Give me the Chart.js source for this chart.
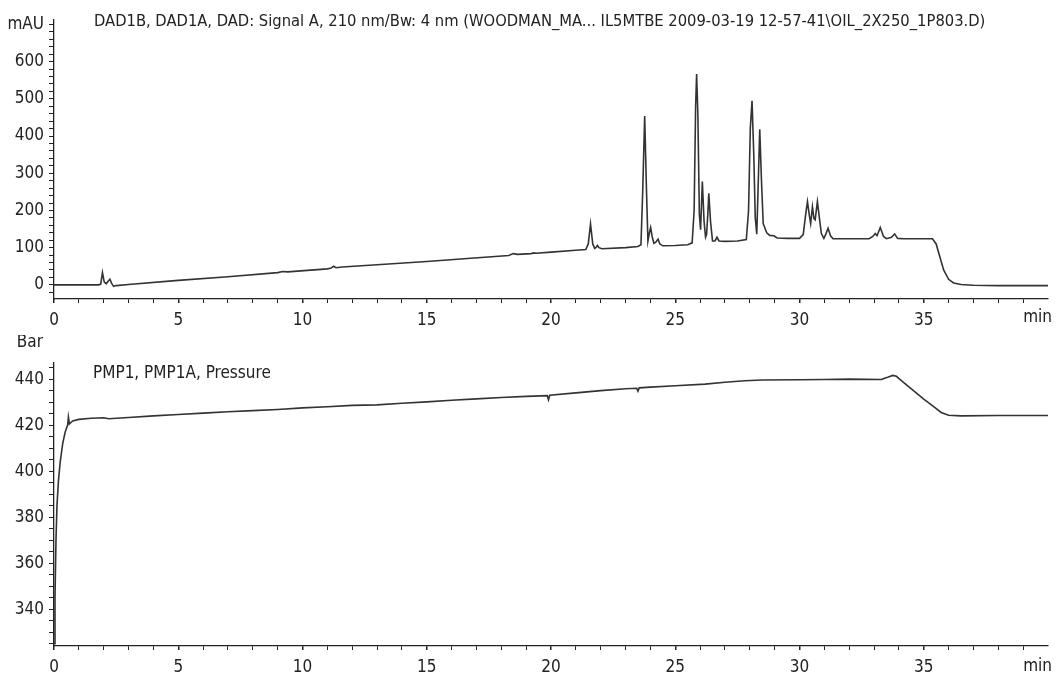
<!DOCTYPE html>
<html>
<head>
<meta charset="utf-8">
<script src="https://cdn.jsdelivr.net/npm/chart.js@4.4.1/dist/chart.umd.min.js"></script>
<style>
  body { margin: 0; background: #fff; }
  .box { position: absolute; left: 0; width: 1060px; }
  #topBox { top: 0; height: 335px; }
  #bottomBox { top: 335px; height: 340px; }
</style>
</head>
<body>
<div class="box" id="topBox"><canvas id="signalChart"></canvas></div>
<div class="box" id="bottomBox"><canvas id="pressureChart"></canvas></div>
<script>
// DAD signal A, 210 nm (min / mAU)
const signalTime = [0, 1.80, 1.88, 1.95, 2.02, 2.10, 2.18, 2.25, 2.32, 2.40, 2.50, 3.0, 5.0, 7.0, 9.0, 9.2, 9.4,
  11.0, 11.15, 11.25, 11.35, 11.6, 13.0, 15.0, 16.5, 18.3, 18.48, 18.65, 19.2, 19.3, 19.4, 20.0, 21.0,
  21.4, 21.50, 21.59, 21.68, 21.76, 21.82, 21.87, 21.93, 22.05, 23.0, 23.5, 23.62, 23.69, 23.77, 23.84,
  23.90, 23.96, 24.01, 24.07, 24.14, 24.22, 24.31, 24.38, 24.5, 25.0, 25.5, 25.68, 25.76, 25.82, 25.86,
  25.91, 25.97, 26.02, 26.09, 26.16, 26.22, 26.26, 26.31, 26.35, 26.42, 26.50, 26.60, 26.68, 26.76,
  27.0, 27.5, 27.86, 27.95, 28.02, 28.09, 28.16, 28.22, 28.28, 28.33, 28.40, 28.47, 28.54, 28.60,
  28.68, 28.8, 28.97, 29.1, 29.5, 30.0, 30.15, 30.25, 30.32, 30.40, 30.45, 30.52, 30.58, 30.63, 30.72,
  30.80, 30.88, 30.98, 31.05, 31.15, 31.25, 31.35, 32.0, 32.8, 32.95, 33.05, 33.12, 33.25, 33.38, 33.5,
  33.7, 33.83, 33.95, 34.2, 35.0, 35.35, 35.5, 35.65, 35.8, 36.0, 36.2, 36.5, 37.0, 38.0, 40.0];
const signalValue = [0, 0, 2, 33, 8, 3, 10, 15, 4, -4, -2, 1, 12, 22, 33, 36, 35,
  43, 45, 50, 46, 48, 54, 63, 70, 79, 84, 82, 84, 86, 85, 88, 93,
  95, 110, 164, 110, 98, 101, 106, 100, 97, 100, 103, 108, 250, 454, 260,
  118, 140, 154, 130, 112, 115, 123, 110, 105, 106, 108, 113, 200, 480, 567,
  460, 190, 148, 278, 170, 128, 135, 190, 246, 170, 118, 118, 128, 118,
  117, 118, 122, 200, 420, 495, 350, 180, 136, 250, 418, 280, 165, 154,
  140, 133, 132, 126, 125, 125, 135, 190, 224, 185, 165, 210, 178, 175, 224,
  180, 138, 125, 135, 152, 132, 124, 124, 124, 130, 138, 132, 154, 130, 124,
  128, 137, 125, 124, 124, 124, 110, 75, 40, 15, 5, 1, -1, -2, -2];

// PMP1 pressure (min / bar)
const pressureTime = [0, 0.04, 0.08, 0.12, 0.18, 0.25, 0.35, 0.45, 0.55, 0.58, 0.62, 0.75, 1.0, 1.5, 2.0,
  2.2, 3.0, 4.0, 5.0, 6.0, 7.0, 8.0, 9.0, 10.0, 11.0, 12.0, 13.0, 14.0, 15.0, 16.0, 17.0, 18.0, 19.0,
  19.85, 19.9, 19.95, 21.0, 22.0, 23.0, 23.45, 23.5, 23.55, 24.0, 25.0, 26.2, 27.0, 27.8, 28.5, 30.0,
  31.0, 32.0, 33.3, 33.45, 33.55, 33.75, 33.9, 34.1, 34.5, 35.0, 35.4, 35.7, 36.0, 36.5, 38.0, 40.0];
const pressureValue = [325, 345, 370, 385, 396, 404, 412, 417, 420, 423.5, 420.5, 421.8, 422.5, 423, 423.2,
  422.8, 423.3, 424, 424.6, 425.2, 425.8, 426.3, 426.8, 427.5, 428, 428.6, 428.8, 429.5, 430.1, 430.8, 431.4, 432, 432.5,
  432.8, 431, 433, 434, 435, 435.8, 436, 434.8, 436.2, 436.5, 437.1, 437.8, 438.6, 439.3, 439.6, 439.7,
  439.8, 440, 439.8, 440.5, 440.8, 441.6, 441.2, 439.3, 435.8, 431.3, 428, 425.5, 424.3, 424, 424.2, 424.2];

// tick labels
const timeLabels = [0, 5, 10, 15, 20, 25, 30, 35];
const signalLabels = [0, 100, 200, 300, 400, 500, 600];
const pressureLabels = [340, 360, 380, 400, 420, 440];

const FONT = "'Liberation Sans Narrow', 'DejaVu Sans Condensed', sans-serif";
const INK = '#222';

const stepTicks = (from, to, step) => {
    const out = [];
    for (let v = from; v <= to + 1e-9; v += step) out.push({ value: Math.round(v * 100) / 100 });
    return out;
};

// captions and unit names placed like the instrument printout
const unitLabels = {
    id: 'unitLabels',
    afterDraw(chart, args, opts) {
        const ctx = chart.ctx;
        ctx.save();
        ctx.fillStyle = INK;
        ctx.textBaseline = 'middle';
        (opts.items || []).forEach(it => {
            ctx.font = (it.size || 17) + 'px ' + FONT;
            ctx.textAlign = it.align || 'left';
            ctx.fillText(it.text, it.x, it.y);
        });
        ctx.restore();
    }
};

const createTrace = (canvasId, xs, ys, cfg) => {
    const points = xs.map((t, i) => ({ x: t, y: ys[i] }));
    return new Chart(document.getElementById(canvasId).getContext('2d'), {
        type: 'line',
        data: {
            datasets: [{
                data: points,
                borderColor: '#333',
                borderWidth: 1.6,
                pointRadius: 0,
                tension: 0,
                fill: false
            }]
        },
        options: {
            responsive: true,
            maintainAspectRatio: false,
            animation: false,
            layout: { padding: { top: cfg.padTop, right: 12, left: 0, bottom: 0 } },
            plugins: {
                legend: { display: false },
                tooltip: { enabled: false },
                unitLabels: { items: cfg.texts }
            },
            scales: {
                x: {
                    type: 'linear',
                    min: 0,
                    max: 40,
                    afterBuildTicks: s => { s.ticks = stepTicks(0, 39, 1); },
                    afterFit: s => { s.height = cfg.xHeight; },
                    border: { display: true, color: INK, width: 1.3 },
                    grid: {
                        drawOnChartArea: false, drawTicks: true, tickLength: 4, color: INK,
                        lineWidth: c => timeLabels.includes(c.tick && c.tick.value) ? 1.5 : 1
                    },
                    ticks: {
                        autoSkip: false,
                        maxRotation: 0,
                        padding: 7,
                        color: INK,
                        font: { family: FONT, size: 17 },
                        callback: v => timeLabels.includes(v) ? String(v) : ''
                    }
                },
                y: {
                    type: 'linear',
                    min: cfg.yMin,
                    max: cfg.yMax,
                    afterBuildTicks: s => { s.ticks = stepTicks(cfg.tickFrom, cfg.tickTo, cfg.tickStep); },
                    afterFit: s => { s.width = 54; },
                    border: { display: true, color: INK, width: 1.3 },
                    grid: { drawOnChartArea: false, drawTicks: true, tickLength: 5, color: INK },
                    ticks: {
                        autoSkip: false,
                        padding: 5,
                        color: INK,
                        font: { family: FONT, size: 17 },
                        callback: cfg.yLabel
                    }
                }
            }
        },
        plugins: [unitLabels]
    });
};

createTrace('signalChart', signalTime, signalValue, {
    padTop: 20, xHeight: 36,
    yMin: -38, yMax: 712, tickFrom: -20, tickTo: 700, tickStep: 20,
    yLabel: v => v === 700 ? 'mAU' : (signalLabels.includes(v) ? String(v) : ''),
    texts: [
        { text: 'DAD1B, DAD1A, DAD: Signal A, 210 nm/Bw: 4 nm (WOODMAN_MA... IL5MTBE 2009-03-19 12-57-41\\OIL_2X250_1P803.D)', x: 94, y: 22, size: 16.4 },
        { text: 'min', x: 1052, y: 318, align: 'right' }
    ]
});

createTrace('pressureChart', pressureTime, pressureValue, {
    padTop: 28, xHeight: 29,
    yMin: 324, yMax: 447, tickFrom: 325, tickTo: 445, tickStep: 5,
    yLabel: v => pressureLabels.includes(v) ? String(v) : '',
    texts: [
        { text: 'Bar', x: 43, y: 8, align: 'right' },
        { text: 'PMP1, PMP1A, Pressure', x: 93, y: 39 },
        { text: 'min', x: 1052, y: 332, align: 'right' }
    ]
});
</script>
</body>
</html>
